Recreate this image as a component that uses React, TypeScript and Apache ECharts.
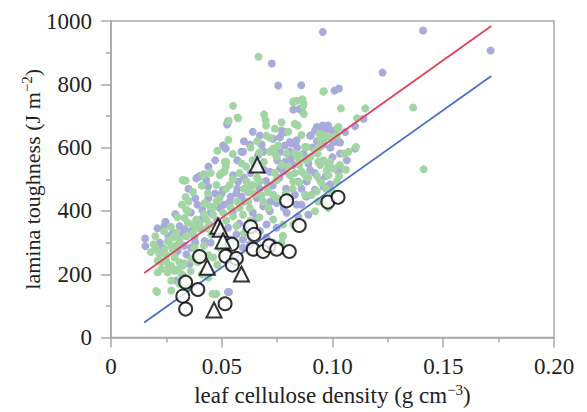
import React, { useEffect, useRef } from "react";
import * as echarts from "echarts";

const purpleDots: number[][] = [
  [0.0956, 965], [0.0726, 866], [0.0755, 796], [0.0859, 797], [0.1009, 780], [0.1029, 787], [0.0823, 720], [0.085, 722],
  [0.0862, 717], [0.0526, 678], [0.0531, 685], [0.0929, 665], [0.0956, 670], [0.098, 670], [0.0944, 654], [0.077, 654],
  [0.0785, 649], [0.1057, 649], [0.0672, 638], [0.0732, 628], [0.0763, 633], [0.0902, 638], [0.1019, 623], [0.1034, 616],
  [0.0506, 607], [0.0518, 597], [0.0627, 610], [0.0596, 587], [0.068, 610], [0.0684, 592], [0.0664, 576], [0.0785, 607],
  [0.0808, 618], [0.0831, 618], [0.0763, 587], [0.0808, 587], [0.1034, 581], [0.1065, 560], [0.0385, 503], [0.04, 510],
  [0.042, 516], [0.0396, 508], [0.0412, 403], [0.0246, 366], [0.0332, 342], [0.0317, 326], [0.0362, 337], [0.0408, 342],
  [0.0154, 313], [0.0234, 284], [0.0302, 274], [0.034, 263], [0.0362, 284], [0.0295, 180], [0.0324, 196], [0.043, 498],
  [0.0438, 477], [0.0377, 316], [0.0423, 305], [0.0355, 232], [0.0687, 587], [0.0551, 513], [0.0574, 493], [0.0506, 467],
  [0.0566, 456], [0.0596, 430], [0.0536, 430], [0.0717, 524], [0.0763, 534], [0.0785, 555], [0.0823, 545], [0.0657, 441],
  [0.0687, 415], [0.0717, 399], [0.0748, 425], [0.0793, 394], [0.0838, 420], [0.0657, 378], [0.0702, 357], [0.0748, 347],
  [0.0672, 337], [0.0491, 409], [0.0528, 347], [0.0536, 310], [0.0566, 326], [0.0596, 310], [0.0702, 316], [0.0732, 300],
  [0.0528, 144], [0.0596, 284], [0.0627, 295], [0.1226, 837], [0.0899, 638], [0.0838, 623], [0.1102, 597], [0.1102, 668],
  [0.114, 691], [0.102, 659], [0.1027, 618], [0.1004, 618], [0.0974, 659], [0.0921, 654], [0.0997, 654], [0.0891, 550],
  [0.0899, 529], [0.1027, 540], [0.1027, 524], [0.0944, 498], [0.0989, 482], [0.0959, 477], [0.0884, 493], [0.0845, 493],
  [0.083, 451], [0.0884, 446], [0.086, 420], [0.0891, 388], [0.0845, 383], [0.0921, 467], [0.0524, 673], [0.0513, 602],
  [0.0589, 587], [0.0815, 613], [0.1409, 970], [0.1714, 907], [0.0155, 289], [0.0533, 144], [0.0989, 484], [0.088, 446],
  [0.028, 330], [0.031, 352], [0.036, 395], [0.039, 420], [0.044, 440], [0.047, 455], [0.045, 395], [0.048, 370],
  [0.051, 420], [0.054, 445], [0.057, 470], [0.06, 505], [0.063, 520], [0.065, 545], [0.062, 460], [0.059, 445],
  [0.064, 395], [0.067, 470], [0.07, 495], [0.073, 480], [0.076, 505], [0.079, 470], [0.081, 440], [0.078, 410],
  [0.072, 430], [0.069, 530], [0.075, 560], [0.078, 525], [0.081, 565], [0.084, 600], [0.087, 580], [0.091, 600],
  [0.093, 620], [0.096, 610], [0.099, 600], [0.1, 570], [0.097, 510], [0.092, 520], [0.086, 470], [0.058, 360],
  [0.061, 345], [0.055, 395], [0.05, 455], [0.041, 375], [0.038, 300], [0.033, 290], [0.026, 320], [0.022, 300],
  [0.029, 265], [0.045, 300], [0.05, 330], [0.057, 560], [0.06, 620], [0.064, 650], [0.047, 560], [0.044, 540],
  [0.021, 345], [0.024, 352], [0.029, 390], [0.035, 470], [0.038, 440],
];

const greenDots: number[][] = [
  [0.0666, 887], [0.0961, 778], [0.0823, 746], [0.0864, 753], [0.087, 740], [0.0871, 706], [0.1038, 724], [0.0551, 732],
  [0.0571, 695], [0.0691, 705], [0.0698, 687], [0.0831, 675], [0.0843, 670], [0.1025, 663], [0.0702, 638], [0.072, 630],
  [0.0941, 644], [0.0962, 628], [0.0989, 633], [0.0732, 597], [0.074, 581], [0.0755, 607], [0.0793, 581], [0.0853, 576],
  [0.0876, 602], [0.0933, 581], [0.0944, 602], [0.0989, 555], [0.1004, 534], [0.1034, 545], [0.0513, 555], [0.0518, 540],
  [0.0498, 519], [0.0509, 524], [0.0415, 513], [0.0324, 498], [0.0337, 496], [0.0328, 496], [0.0337, 444], [0.034, 404],
  [0.0347, 399], [0.0385, 373], [0.037, 357], [0.0332, 378], [0.0347, 363], [0.0392, 347], [0.043, 373], [0.0445, 357],
  [0.0295, 331], [0.0279, 316], [0.0256, 305], [0.0272, 290], [0.0302, 295], [0.0242, 279], [0.0219, 263], [0.0211, 243],
  [0.0193, 295], [0.0204, 279], [0.0249, 243], [0.0227, 217], [0.0256, 206], [0.0287, 211], [0.0317, 201], [0.0211, 206],
  [0.0204, 147], [0.0272, 180], [0.0272, 149], [0.0438, 456], [0.0423, 425], [0.0445, 415], [0.0377, 284], [0.0408, 263],
  [0.0362, 248], [0.0392, 238], [0.0287, 253], [0.0309, 238], [0.0324, 227], [0.0272, 227], [0.0458, 138], [0.0521, 555],
  [0.0513, 524], [0.0491, 513], [0.0536, 482], [0.0476, 482], [0.0612, 493], [0.0642, 482], [0.0627, 462], [0.0672, 493],
  [0.0702, 472], [0.0732, 451], [0.0748, 498], [0.0808, 513], [0.0823, 493], [0.0748, 571], [0.0717, 587], [0.0687, 430],
  [0.0627, 409], [0.0596, 388], [0.0732, 373], [0.0777, 357], [0.0823, 357], [0.0476, 430], [0.0461, 388], [0.0506, 394],
  [0.0551, 383], [0.0566, 352], [0.0777, 321], [0.077, 300], [0.0476, 138], [0.0453, 326], [0.0491, 284], [0.0461, 253],
  [0.0959, 777], [0.0838, 748], [0.0868, 732], [0.083, 675], [0.1148, 724], [0.111, 693], [0.1027, 665], [0.102, 638],
  [0.0966, 638], [0.0944, 628], [0.0884, 602], [0.1072, 587], [0.105, 581], [0.083, 581], [0.0845, 566], [0.0936, 555],
  [0.0959, 560], [0.0981, 545], [0.0974, 529], [0.0944, 545], [0.0861, 524], [0.0876, 513], [0.0981, 513], [0.102, 493],
  [0.0929, 462], [0.0906, 451], [0.0876, 451], [0.0959, 435], [0.0921, 399], [0.0981, 409], [0.0936, 430], [0.0528, 685],
  [0.0574, 693], [0.0823, 743], [0.1364, 727], [0.1412, 532], [0.0473, 137], [0.0208, 144], [0.0775, 321], [0.1106, 602],
  [0.025, 260], [0.028, 275], [0.031, 310], [0.034, 320], [0.037, 330], [0.04, 360], [0.042, 390], [0.043, 345],
  [0.046, 410], [0.049, 440], [0.052, 470], [0.055, 500], [0.058, 520], [0.061, 540], [0.064, 560], [0.067, 585],
  [0.069, 555], [0.066, 505], [0.063, 480], [0.06, 470], [0.057, 430], [0.054, 410], [0.052, 370], [0.049, 355],
  [0.058, 410], [0.062, 430], [0.065, 455], [0.068, 450], [0.071, 460], [0.074, 520], [0.077, 545], [0.08, 540],
  [0.083, 520], [0.085, 545], [0.088, 560], [0.09, 570], [0.092, 590], [0.086, 640], [0.08, 650], [0.077, 680],
  [0.074, 660], [0.07, 670], [0.066, 620], [0.063, 600], [0.059, 550], [0.055, 580], [0.053, 625], [0.048, 590],
  [0.045, 520], [0.041, 480], [0.037, 460], [0.035, 430], [0.032, 420], [0.03, 380], [0.027, 350], [0.024, 335],
  [0.02, 320], [0.018, 270], [0.023, 240], [0.026, 225], [0.03, 215], [0.033, 235], [0.036, 210], [0.039, 270],
  [0.042, 290], [0.044, 260], [0.031, 170], [0.035, 160], [0.041, 200], [0.044, 190], [0.048, 230], [0.053, 240],
  [0.056, 300], [0.06, 330], [0.063, 370], [0.067, 380], [0.071, 410], [0.075, 440], [0.079, 455], [0.082, 470],
  [0.085, 490], [0.089, 505], [0.093, 510], [0.095, 490], [0.097, 470], [0.1, 460], [0.103, 510], [0.106, 530],
];

const circleData: number[][] = [
  [0.0793, 432], [0.0979, 428], [0.1025, 443], [0.085, 354], [0.063, 350], [0.0646, 326], [0.0546, 295],
  [0.0642, 279], [0.0687, 272], [0.0714, 290], [0.0748, 279], [0.0805, 272], [0.04, 256], [0.0518, 257],
  [0.0566, 250], [0.0548, 229], [0.0337, 175], [0.0392, 152], [0.0324, 131], [0.0337, 90], [0.0515, 107],
];

const triangleData: number[][] = [
  [0.0483, 352], [0.0494, 342], [0.0506, 305], [0.0435, 222], [0.0589, 201], [0.0465, 87], [0.066, 545],
];

const redLine: number[][] = [[0.015, 204], [0.1717, 984]];
const blueLine: number[][] = [[0.015, 48], [0.1717, 826]];

const FONT = "Liberation Serif";
const AXIS_GREY = "#a8a8a8";

export default function App() {
  const ref = useRef<HTMLDivElement>(null);
  useEffect(() => {
    document.body.style.margin = "0";
    if (!ref.current) return;
    const chart = echarts.init(ref.current, undefined, { renderer: "svg" });
    chart.setOption({
      animation: false,
      backgroundColor: "#ffffff",
      grid: {
        left: 111,
        right: 33,
        top: 21,
        bottom: 70,
        show: true,
        borderColor: AXIS_GREY,
        borderWidth: 1.5,
      },
      xAxis: {
        type: "value",
        min: 0,
        max: 0.2,
        interval: 0.05,
        name: "{n|leaf cellulose density (g cm}{s|−3}{n|)}",
        nameLocation: "middle",
        nameGap: 37,
        nameTextStyle: {
          rich: {
            n: { fontFamily: FONT, fontSize: 23, color: "#222" },
            s: { fontFamily: FONT, fontSize: 15, color: "#222", padding: [0, 0, 11, 0] },
          },
        },
        axisLine: { show: true, lineStyle: { color: AXIS_GREY, width: 1.5 } },
        axisTick: { show: true, length: 10, lineStyle: { color: AXIS_GREY, width: 1.5 } },
        minorTick: { show: true, splitNumber: 2, length: 5, lineStyle: { color: AXIS_GREY, width: 1.5 } },
        splitLine: { show: false },
        axisLabel: {
          fontFamily: FONT,
          fontSize: 23,
          color: "#222",
          margin: 17,
          formatter: (v: number) => (v === 0 ? "0" : v.toFixed(2)),
        },
      },
      yAxis: {
        type: "value",
        min: 0,
        max: 1000,
        interval: 200,
        name: "{n|lamina toughness (J m}{s|−2}{n|)}",
        nameLocation: "middle",
        nameGap: 66,
        nameMoveOverlap: false,
        nameTextStyle: {
          rich: {
            n: { fontFamily: FONT, fontSize: 22, color: "#222" },
            s: { fontFamily: FONT, fontSize: 15, color: "#222", padding: [0, 0, 11, 0] },
          },
        },
        axisLine: { show: true, lineStyle: { color: AXIS_GREY, width: 1.5 } },
        axisTick: { show: true, length: 10, lineStyle: { color: AXIS_GREY, width: 1.5 } },
        minorTick: { show: true, splitNumber: 2, length: 5, lineStyle: { color: AXIS_GREY, width: 1.5 } },
        splitLine: { show: false },
        axisLabel: {
          fontFamily: FONT,
          fontSize: 23,
          color: "#222",
          margin: 19,
          formatter: (v: number) => String(v),
        },
      },
      series: [
        {
          type: "scatter",
          data: purpleDots,
          symbolSize: 8,
          itemStyle: { color: "#a7acd9", opacity: 1 },
          z: 2,
        },
        {
          type: "scatter",
          data: greenDots,
          symbolSize: 8,
          itemStyle: { color: "#a2d5a3", opacity: 1 },
          z: 2,
        },
        {
          type: "line",
          data: redLine,
          showSymbol: false,
          lineStyle: { color: "#e2415a", width: 1.8 },
          z: 3,
        },
        {
          type: "line",
          data: blueLine,
          showSymbol: false,
          lineStyle: { color: "#4a70c6", width: 1.8 },
          z: 3,
        },
        {
          type: "scatter",
          data: circleData,
          symbol: "circle",
          symbolSize: 13,
          itemStyle: { color: "#ffffff", borderColor: "#000", borderWidth: 2 },
          z: 4,
        },
        {
          type: "scatter",
          data: triangleData,
          symbol: "triangle",
          symbolSize: 15,
          itemStyle: { color: "#ffffff", borderColor: "#000", borderWidth: 2 },
          z: 4,
        },
      ],
    });
    return () => chart.dispose();
  }, []);
  return <div ref={ref} style={{ width: 587, height: 412 }} />;
}
